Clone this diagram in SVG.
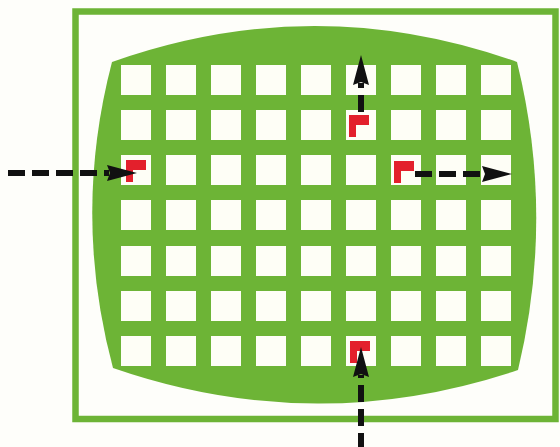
<svg xmlns="http://www.w3.org/2000/svg" xmlns:xlink="http://www.w3.org/1999/xlink" width="560" height="447" viewBox="0 0 560 447">
<style>
.green{fill:#6db436}
.sq{fill:#fefef6}
.flag{fill:#e3202c}
.dash{fill:none;stroke:#111;stroke-width:6;stroke-dasharray:17 7}
</style>
<defs>
<path id="flag" d="M0,0 h20 v10 h-13 v12 h-7 z"/>
<marker id="ah" viewBox="0 0 30 18" markerWidth="30" markerHeight="18" markerUnits="userSpaceOnUse" refX="2" refY="9" orient="auto">
<path d="M0,1 L30,9 L0,17 L3,9 z" fill="#111"/>
</marker>
</defs>
<rect width="560" height="447" fill="#fefefa"/>
<g id="frame">
<rect x="75.5" y="11.5" width="480" height="407.5" fill="none" stroke="#6db436" stroke-width="6.5"/>
</g>
<g id="screen">
<path class="green" d="M112,62 Q315,-10 517,62 Q555,216 518,370 Q315,438 113,368 Q72,215 112,62 Z"/>
</g>
<g id="grid" class="sq">
<rect x="121" y="65" width="30" height="30"/><rect x="166" y="65" width="30" height="30"/><rect x="211" y="65" width="30" height="30"/><rect x="256" y="65" width="30" height="30"/><rect x="301" y="65" width="30" height="30"/><rect x="346" y="65" width="30" height="30"/><rect x="391" y="65" width="30" height="30"/><rect x="436" y="65" width="30" height="30"/><rect x="481" y="65" width="30" height="30"/>
<rect x="121" y="110" width="30" height="30"/><rect x="166" y="110" width="30" height="30"/><rect x="211" y="110" width="30" height="30"/><rect x="256" y="110" width="30" height="30"/><rect x="301" y="110" width="30" height="30"/><rect x="346" y="110" width="30" height="30"/><rect x="391" y="110" width="30" height="30"/><rect x="436" y="110" width="30" height="30"/><rect x="481" y="110" width="30" height="30"/>
<rect x="121" y="155" width="30" height="30"/><rect x="166" y="155" width="30" height="30"/><rect x="211" y="155" width="30" height="30"/><rect x="256" y="155" width="30" height="30"/><rect x="301" y="155" width="30" height="30"/><rect x="346" y="155" width="30" height="30"/><rect x="391" y="155" width="30" height="30"/><rect x="436" y="155" width="30" height="30"/><rect x="481" y="155" width="30" height="30"/>
<rect x="121" y="200" width="30" height="30"/><rect x="166" y="200" width="30" height="30"/><rect x="211" y="200" width="30" height="30"/><rect x="256" y="200" width="30" height="30"/><rect x="301" y="200" width="30" height="30"/><rect x="346" y="200" width="30" height="30"/><rect x="391" y="200" width="30" height="30"/><rect x="436" y="200" width="30" height="30"/><rect x="481" y="200" width="30" height="30"/>
<rect x="121" y="246" width="30" height="30"/><rect x="166" y="246" width="30" height="30"/><rect x="211" y="246" width="30" height="30"/><rect x="256" y="246" width="30" height="30"/><rect x="301" y="246" width="30" height="30"/><rect x="346" y="246" width="30" height="30"/><rect x="391" y="246" width="30" height="30"/><rect x="436" y="246" width="30" height="30"/><rect x="481" y="246" width="30" height="30"/>
<rect x="121" y="291" width="30" height="30"/><rect x="166" y="291" width="30" height="30"/><rect x="211" y="291" width="30" height="30"/><rect x="256" y="291" width="30" height="30"/><rect x="301" y="291" width="30" height="30"/><rect x="346" y="291" width="30" height="30"/><rect x="391" y="291" width="30" height="30"/><rect x="436" y="291" width="30" height="30"/><rect x="481" y="291" width="30" height="30"/>
<rect x="121" y="336" width="30" height="30"/><rect x="166" y="336" width="30" height="30"/><rect x="211" y="336" width="30" height="30"/><rect x="256" y="336" width="30" height="30"/><rect x="301" y="336" width="30" height="30"/><rect x="346" y="336" width="30" height="30"/><rect x="391" y="336" width="30" height="30"/><rect x="436" y="336" width="30" height="30"/><rect x="481" y="336" width="30" height="30"/>
</g>
<g id="marker-left" class="flag"><use xlink:href="#flag" x="126" y="160"/></g>
<g id="marker-top" class="flag"><use xlink:href="#flag" x="349" y="115"/></g>
<g id="marker-right" class="flag"><use xlink:href="#flag" x="394" y="161"/></g>
<g id="marker-bottom" class="flag"><use xlink:href="#flag" x="350" y="341"/></g>
<g id="connectors">
<path class="dash" d="M8,173 H109" marker-end="url(#ah)"/>
<path class="dash" d="M361,112 V83" marker-end="url(#ah)"/>
<path class="dash" d="M415,174 H484" marker-end="url(#ah)"/>
<path class="dash" d="M361,450 V375" marker-end="url(#ah)"/>
</g>
</svg>
